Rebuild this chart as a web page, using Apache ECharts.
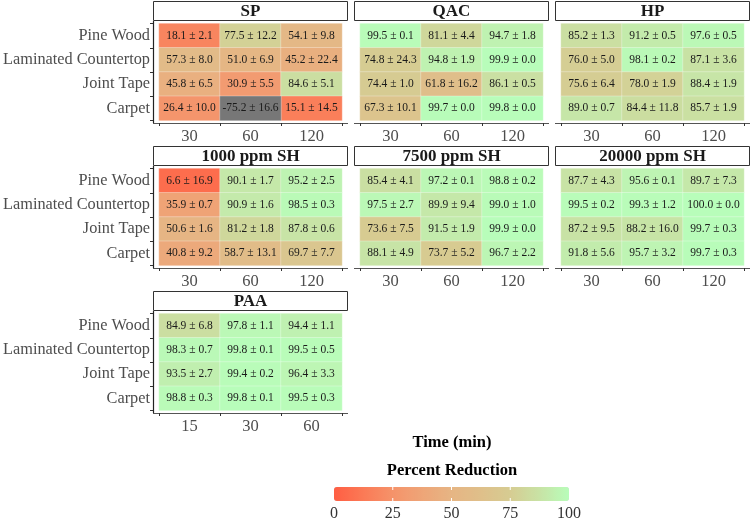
<!DOCTYPE html>
<html><head><meta charset="utf-8">
<script src="https://cdn.jsdelivr.net/npm/echarts@6/dist/echarts.min.js"></script>
<style>html,body{margin:0;padding:0;background:#fff}#c{width:750px;height:521px}</style>
</head><body><div id="c"></div>
<script>
const materials = ['Pine Wood','Laminated Countertop','Joint Tape','Carpet'];
const timesMain = ['30','60','120'];
const timesPAA = ['15','30','60'];
const panelTitles = ['SP','QAC','HP','1000 ppm SH','7500 ppm SH','20000 ppm SH','PAA'];
const legendTicks = [0,25,50,75,100];
const axisTitle = 'Time (min)';
const legendTitle = 'Percent Reduction';

const spMean = [[18.1,77.5,54.1],[57.3,51.0,45.2],[45.8,30.9,84.6],[26.4,-75.2,15.1]];
const spSd   = [[2.1,12.2,9.8],[8.0,6.9,22.4],[6.5,5.5,5.1],[10.0,16.6,14.5]];
const qacMean = [[99.5,81.1,94.7],[74.8,94.8,99.9],[74.4,61.8,86.1],[67.3,99.7,99.8]];
const qacSd   = [[0.1,4.4,1.8],[24.3,1.9,0.0],[1.0,16.2,0.5],[10.1,0.0,0.0]];
const hpMean = [[85.2,91.2,97.6],[76.0,98.1,87.1],[75.6,78.0,88.4],[89.0,84.4,85.7]];
const hpSd   = [[1.3,0.5,0.5],[5.0,0.2,3.6],[6.4,1.9,1.9],[0.7,11.8,1.9]];
const sh1000Mean = [[6.6,90.1,95.2],[35.9,90.9,98.5],[50.6,81.2,87.8],[40.8,58.7,69.7]];
const sh1000Sd   = [[16.9,1.7,2.5],[0.7,1.6,0.3],[1.6,1.8,0.6],[9.2,13.1,7.7]];
const sh7500Mean = [[85.4,97.2,98.8],[97.5,89.9,99.0],[73.6,91.5,99.9],[88.1,73.7,96.7]];
const sh7500Sd   = [[4.1,0.1,0.2],[2.7,9.4,1.0],[7.5,1.9,0.0],[4.9,5.2,2.2]];
const sh20000Mean = [[87.7,95.6,89.7],[99.5,99.3,100.0],[87.2,88.2,99.7],[91.8,95.7,99.7]];
const sh20000Sd   = [[4.3,0.1,7.3],[0.2,1.2,0.0],[9.5,16.0,0.3],[5.6,3.2,0.3]];
const paaMean = [[84.9,97.8,94.4],[98.3,99.8,99.5],[93.5,99.4,96.4],[98.8,99.8,99.5]];
const paaSd   = [[6.8,1.1,1.1],[0.7,0.1,0.5],[2.7,0.2,3.3],[0.3,0.1,0.3]];

const means = [spMean,qacMean,hpMean,sh1000Mean,sh7500Mean,sh20000Mean,paaMean];
const sds = [spSd,qacSd,hpSd,sh1000Sd,sh7500Sd,sh20000Sd,paaSd];
const timeSets = [timesMain,timesMain,timesMain,timesMain,timesMain,timesMain,timesPAA];

// layout
const FONT = 'Liberation Serif, Times New Roman, serif';
const panelX = [153, 354, 555], panelW = 195;
const rowY = [1, 146, 291], stripH = 19, plotH = 102;
const padX = 6, padY = 2.5;
const scaleMin = legendTicks[0], scaleMax = legendTicks[legendTicks.length-1];

const grids = [], xAxes = [], yAxes = [], series = [], graphics = [], mappedSeries = [];
const labelCfg = {show:true, fontFamily:FONT, fontSize:11.5, color:'#1a1a1a',
  formatter: p => p.value[2].toFixed(1) + ' \u00b1 ' + p.value[3].toFixed(1)};
panelTitles.forEach((t, i) => {
  const col = i % 3, row = Math.floor(i / 3);
  const px = panelX[col], sy = rowY[row], pt = sy + stripH + 1;
  grids.push({left: px + padX, top: pt + padY, width: panelW - 2*padX, height: plotH - 2*padY});
  xAxes.push({type:'category', gridIndex:i, data: timeSets[i], offset: padY,
    axisLine:{show:false}, axisTick:{show:true, length:3, lineStyle:{color:'#333'}},
    axisLabel:{fontFamily:FONT, fontSize:16.5, color:'#4d4d4d', margin:5}, splitLine:{show:false}});
  yAxes.push({type:'category', gridIndex:i, data: materials, inverse:true, offset: padX,
    axisLine:{show:false}, axisTick:{show: col===0, length:3, lineStyle:{color:'#333'}},
    axisLabel:{show: col===0, fontFamily:FONT, fontSize:16.3, color:'#4d4d4d', margin:3}, splitLine:{show:false}});
  const inData = [], outData = [];
  means[i].forEach((r, yi) => r.forEach((v, xi) => {
    const d = [xi, yi, v, sds[i][yi][xi]];
    (v < scaleMin || v > scaleMax ? outData : inData).push(d);
  }));
  mappedSeries.push(series.length);
  series.push({type:'heatmap', xAxisIndex:i, yAxisIndex:i, data: inData,
    itemStyle:{borderColor:'rgba(255,255,255,0.6)', borderWidth:0.5},
    label: labelCfg, emphasis:{disabled:true}});
  if (outData.length) {
    series.push({type:'heatmap', xAxisIndex:i, yAxisIndex:i, data: outData,
      itemStyle:{color:'#777777', borderColor:'rgba(255,255,255,0.6)', borderWidth:0.5},
      label: labelCfg, emphasis:{disabled:true}});
  }
  // strip
  graphics.push({type:'rect', shape:{x:px+0.5, y:sy+0.5, width:panelW-1, height:stripH},
    style:{fill:'#fff', stroke:'#333', lineWidth:1}});
  graphics.push({type:'text', x:px+panelW/2, y:sy+stripH/2+1,
    style:{text:t, fontFamily:FONT, fontSize:17, fontWeight:'bold', fill:'#1a1a1a', align:'center', verticalAlign:'middle'}});
  // axis lines
  graphics.push({type:'line', shape:{x1:px, y1:pt+plotH+0.5, x2:px+panelW, y2:pt+plotH+0.5},
    style:{stroke:'#555', lineWidth:1.2}});
  if (col === 0) {
    graphics.push({type:'line', shape:{x1:px+0.5, y1:pt, x2:px+0.5, y2:pt+plotH},
      style:{stroke:'#222', lineWidth:1.2}});
  }
});

// titles
graphics.push({type:'text', x:452, y:443, style:{text:axisTitle, fontFamily:FONT, fontSize:16.5, fontWeight:'bold', fill:'#000', align:'center', verticalAlign:'middle'}});
graphics.push({type:'text', x:452, y:471, style:{text:legendTitle, fontFamily:FONT, fontSize:16.5, fontWeight:'bold', fill:'#000', align:'center', verticalAlign:'middle'}});
const barL = 334, barW = 235, barT = 487, barH = 14;
legendTicks.forEach(v => {
  const x = barL + (v - scaleMin) / (scaleMax - scaleMin) * barW;
  graphics.push({type:'text', x, y:barT+barH+13, style:{text:String(v), fontFamily:FONT, fontSize:16, fill:'#333', align:'center', verticalAlign:'middle'}});
  if (v > scaleMin && v < scaleMax) {
    graphics.push({type:'line', z:100, shape:{x1:x, y1:barT, x2:x, y2:barT+3}, style:{stroke:'#fff', lineWidth:1}});
    graphics.push({type:'line', z:100, shape:{x1:x, y1:barT+barH-3, x2:x, y2:barT+barH}, style:{stroke:'#fff', lineWidth:1}});
  }
});

const chart = echarts.init(document.getElementById('c'), null, {renderer:'canvas'});
chart.setOption({
  animation:false,
  grid: grids, xAxis: xAxes, yAxis: yAxes, series,
  visualMap: {type:'continuous', min:scaleMin, max:scaleMax, dimension:2, orient:'horizontal',
    seriesIndex: mappedSeries,
    left: barL, top: barT, padding:0, itemWidth: barH, itemHeight: barW, calculable:false, showLabel:false, text:null,
    hoverLink:false,
    inRange:{color:['#FF5E43','#FB7A56','#F5936A','#EEA578','#E6B584','#DFBF8A','#D6CC92','#C8E3A5','#B8FDBA']}},
  graphic: graphics
});
</script></body></html>
